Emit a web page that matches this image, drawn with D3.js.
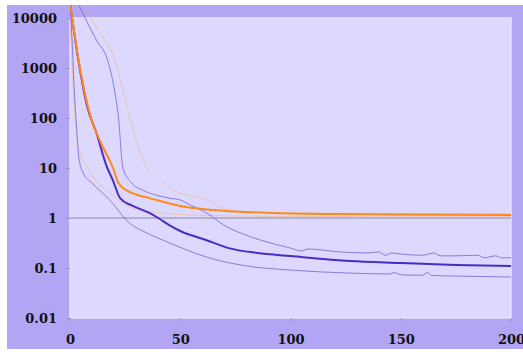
<!DOCTYPE html>
<html>
<head>
<script src="https://cdnjs.cloudflare.com/ajax/libs/d3/7.8.5/d3.min.js"></script>
<style>
  body { margin: 0; background: #fff; }
  .tick text { font-family: "DejaVu Serif", serif; font-weight: bold; font-size: 13px; fill: #111; }
</style>
</head>
<body>
<div id="chart"></div>
<script>
// tick labels
var yTicks = [0.01, 0.1, 1, 10, 100, 1000, 10000];
var xTicks = [0, 50, 100, 150, 200];

// mean curves (thick)
var blueX = [0, 4, 8, 12, 16.5, 19.5, 22.7, 28, 36, 40, 45, 50, 62, 72, 85, 100, 127, 150, 175, 200];
var blueY = [20000, 1260, 158, 50, 11.2, 5.6, 2.5, 1.78, 1.26, 1, 0.72, 0.55, 0.36, 0.25, 0.2, 0.174, 0.138, 0.126, 0.115, 0.11];
var orangeX = [0, 4.5, 9.5, 14, 19.5, 22, 25.6, 30, 36, 50, 62, 80, 100, 122, 150, 200];
var orangeY = [20000, 1000, 100, 32, 10, 5, 3.6, 2.95, 2.5, 1.74, 1.48, 1.32, 1.23, 1.2, 1.17, 1.15];

// spread curves (thin)
var blueHiX = [3.6, 8, 12, 17, 20, 22, 24, 28, 33, 40, 45, 50, 55, 62, 70, 82, 100, 105, 108, 122, 135, 140, 143, 146, 150, 160, 165, 168, 175, 185, 188, 193, 196, 200];
var blueHiY = [20000, 7900, 3600, 1450, 400, 100, 10, 5, 3.6, 2.8, 2.5, 2.3, 1.78, 1.26, 0.71, 0.42, 0.25, 0.22, 0.24, 0.21, 0.2, 0.21, 0.18, 0.2, 0.19, 0.18, 0.2, 0.175, 0.175, 0.18, 0.16, 0.175, 0.16, 0.16];
var blueLoX = [0, 1, 2, 3, 4, 6, 10, 18, 27, 35, 45, 63, 80, 100, 127, 145, 147, 149, 152, 160, 162, 164, 175, 200];
var blueLoY = [20000, 3160, 316, 63, 16, 7.9, 5, 2.3, 0.79, 0.5, 0.32, 0.16, 0.11, 0.091, 0.079, 0.076, 0.081, 0.076, 0.072, 0.072, 0.081, 0.071, 0.069, 0.066];
var orangeHiX = [6, 12, 20, 25, 29, 35, 39, 47, 62, 72, 85, 100, 150, 200];
var orangeHiY = [20000, 6300, 1580, 250, 50, 10, 6.6, 3.6, 2.3, 1.45, 1.32, 1.26, 1.23, 1.2];
var orangeLoX = [0, 1, 2, 4, 8, 18, 27, 32, 54, 100, 200];
var orangeLoY = [10000, 1000, 160, 25, 10, 3.2, 1.66, 1.45, 1.15, 1.07, 1.05];

var W = 523, H = 352;
var mLeft = 70, mRight = 511, mTop = 18, mBottom = 318;

var svg = d3.select("#chart").append("svg")
  .attr("width", W).attr("height", H);

svg.append("rect").attr("x", 7).attr("y", 5).attr("width", W - 7).attr("height", 344)
  .attr("fill", "#b2a6f4");
svg.append("rect").attr("x", mLeft).attr("y", mTop).attr("width", mRight - mLeft).attr("height", mBottom - mTop)
  .attr("fill", "#ddd8fd").attr("stroke", "#e6e2fd").attr("stroke-width", 1.5);

var x = d3.scaleLinear().domain([0, 200]).range([mLeft, mRight]);
var y = d3.scaleLog().domain([0.01, 10000]).range([mBottom, mTop]);

var yAxis = svg.append("g").attr("transform", "translate(" + mLeft + ",0)")
  .call(d3.axisLeft(y).tickValues(yTicks).tickFormat(d3.format("")).tickSize(4).tickPadding(9));
var xAxis = svg.append("g").attr("transform", "translate(0," + mBottom + ")")
  .call(d3.axisBottom(x).tickValues(xTicks).tickSize(4).tickPadding(13));
[yAxis, xAxis].forEach(function(a) {
  a.select(".domain").remove();
  a.selectAll(".tick line").attr("stroke", "#9a94c8");
});

svg.append("clipPath").attr("id", "clip").append("rect")
  .attr("x", mLeft).attr("y", 5).attr("width", mRight - mLeft).attr("height", mBottom - 5);

// reference line at 1
svg.append("line")
  .attr("x1", mLeft).attr("x2", mRight).attr("y1", y(1)).attr("y2", y(1))
  .attr("stroke", "#8a88a8").attr("stroke-width", 1);

var line = d3.line().x(function(d) { return x(d[0]); }).y(function(d) { return y(d[1]); })
  .curve(d3.curveMonotoneX);

function series(xs, ys, color, width, opacity) {
  svg.append("path")
    .datum(xs.map(function(v, i) { return [v, ys[i]]; }))
    .attr("clip-path", "url(#clip)")
    .attr("fill", "none")
    .attr("stroke", color)
    .attr("stroke-width", width)
    .attr("stroke-opacity", opacity)
    .attr("d", line);
}

series(orangeHiX, orangeHiY, "#f4b27a", 1, 0.55);
series(orangeLoX, orangeLoY, "#f4b27a", 1, 0.55);
series(blueHiX, blueHiY, "#7f70d8", 1, 0.9);
series(blueLoX, blueLoY, "#7f70d8", 1, 0.9);
series(blueX, blueY, "#4a2cc4", 2, 1);
series(orangeX, orangeY, "#ff8a1a", 2, 1);
</script>
</body>
</html>
